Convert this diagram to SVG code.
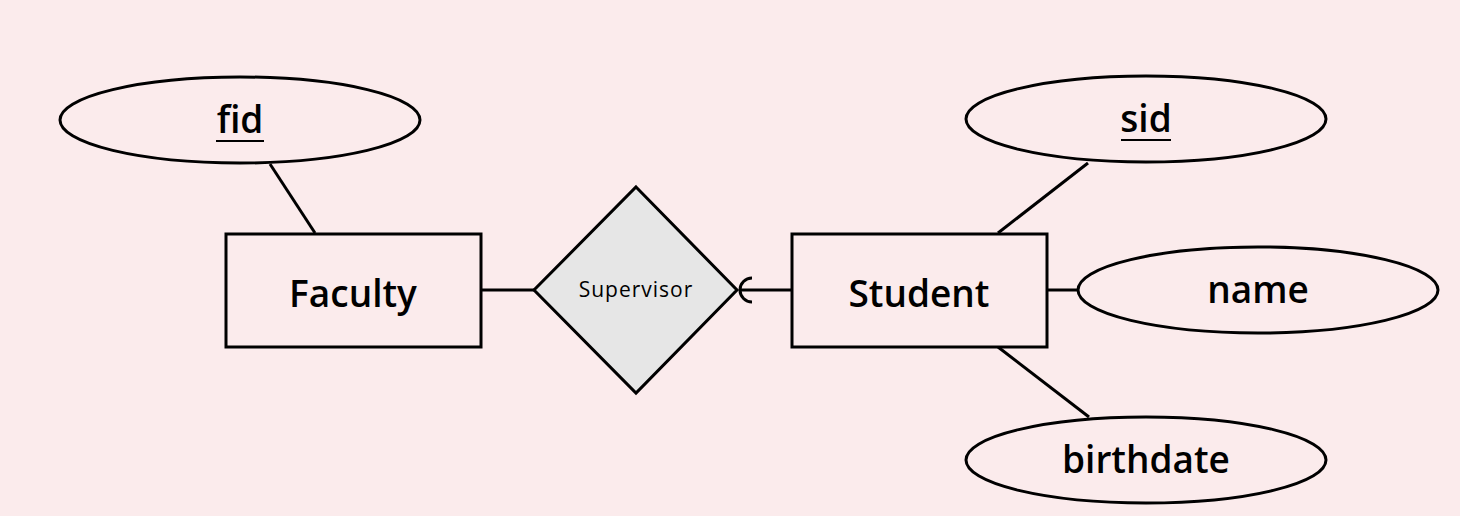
<svg xmlns="http://www.w3.org/2000/svg" width="1460" height="516" viewBox="0 0 1460 516">
<style>
.ent{fill:#fbebec;stroke:#000;stroke-width:3}
.rel{fill:#e6e6e6;stroke:#000;stroke-width:3}
.t{font-family:"Open Sans","Noto Sans",sans-serif;font-size:37px;font-weight:600;fill:#000;text-anchor:middle}
.s{font-family:"Open Sans","Noto Sans",sans-serif;font-size:21px;letter-spacing:1px;fill:#000;text-anchor:middle}
.ln{stroke:#000;stroke-width:3;fill:none}
.ul{stroke:#000;stroke-width:2}
</style>
<rect width="1460" height="516" fill="#fbebec"/>
<g id="connectors">
<line class="ln" x1="270" y1="164" x2="315" y2="233"/>
<line class="ln" x1="481" y1="290" x2="534" y2="290"/>
<line class="ln" x1="741" y1="290" x2="792" y2="290"/>
<path class="ln" d="M752,278 A12,12 0 0 0 752,302"/>
<line class="ln" x1="1088" y1="163" x2="998" y2="233"/>
<line class="ln" x1="1047" y1="290" x2="1078" y2="290"/>
<line class="ln" x1="998" y1="347" x2="1089" y2="417"/>
</g>
<g id="fid">
<ellipse class="ent" cx="240" cy="120" rx="180" ry="43"/>
<text class="t" x="240" y="133">fid</text>
<line class="ul" x1="216" y1="141" x2="264" y2="141"/>
</g>
<g id="faculty">
<rect class="ent" x="226" y="234" width="255" height="113"/>
<text class="t" x="353" y="307">Faculty</text>
</g>
<g id="supervisor">
<polygon class="rel" points="636,187 737,290 636,393 534,290"/>
<text class="s" x="636" y="297">Supervisor</text>
</g>
<g id="student">
<rect class="ent" x="792" y="234" width="255" height="113"/>
<text class="t" x="919" y="307">Student</text>
</g>
<g id="sid">
<ellipse class="ent" cx="1146" cy="119" rx="180" ry="43"/>
<text class="t" x="1146" y="132">sid</text>
<line class="ul" x1="1121" y1="140" x2="1171" y2="140"/>
</g>
<g id="name">
<ellipse class="ent" cx="1258" cy="290" rx="180" ry="43"/>
<text class="t" x="1258" y="303">name</text>
</g>
<g id="birthdate">
<ellipse class="ent" cx="1146" cy="460" rx="180" ry="43"/>
<text class="t" x="1146" y="473">birthdate</text>
</g>
</svg>
